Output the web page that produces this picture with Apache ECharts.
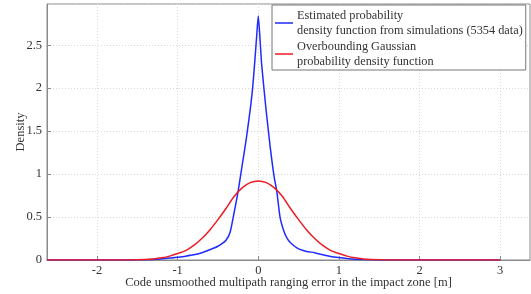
<!DOCTYPE html>
<html>
<head>
<meta charset="utf-8">
<script src="https://cdn.jsdelivr.net/npm/echarts@6/dist/echarts.min.js"></script>
<style>
  html, body { margin: 0; padding: 0; background: #fff; }
  #chart { width: 531px; height: 294px; }
</style>
</head>
<body>
<div id="chart"></div>
<script>
// estimated pdf (blue)
const estX = [-2.62, -2.0, -1.6, -1.4, -1.25, -1.1, -1.0, -0.9, -0.8, -0.7, -0.6, -0.5, -0.45, -0.4, -0.35,
  -0.3, -0.25, -0.2, -0.15, -0.1, -0.07, -0.04, -0.02, 0, 0.02, 0.04, 0.07, 0.1, 0.15, 0.2, 0.23, 0.27,
  0.32, 0.36, 0.4, 0.45, 0.5, 0.6, 0.7, 0.8, 0.9, 1.0, 1.1, 1.2, 1.3, 1.5, 2.0, 3.0]
const estY = [0, 0, 0.001, 0.004, 0.01, 0.022, 0.033, 0.045, 0.06, 0.085, 0.12, 0.16, 0.19, 0.23, 0.32,
  0.55, 0.8, 1.1, 1.4, 1.75, 2.0, 2.35, 2.6, 2.84, 2.6, 2.3, 2.0, 1.72, 1.3, 0.95, 0.8, 0.5,
  0.33, 0.25, 0.2, 0.16, 0.13, 0.1, 0.085, 0.06, 0.04, 0.028, 0.018, 0.01, 0.005, 0.001, 0, 0]

// overbounding gaussian (red)
const gaussX = [-2.62, -2.0, -1.6, -1.4, -1.3, -1.2, -1.1, -1.0, -0.9, -0.8, -0.7, -0.6, -0.5, -0.4, -0.3, -0.2, -0.1,
  0, 0.1, 0.2, 0.3, 0.4, 0.5, 0.6, 0.7, 0.8, 0.9, 1.0, 1.1, 1.2, 1.3, 1.4, 1.6, 2.0, 3.0]
const gaussY = [0, 0, 0.001, 0.006, 0.013, 0.025, 0.045, 0.075, 0.11, 0.17, 0.25, 0.35, 0.47, 0.6, 0.74, 0.84, 0.9,
  0.92, 0.9, 0.84, 0.74, 0.6, 0.47, 0.35, 0.25, 0.17, 0.11, 0.075, 0.045, 0.025, 0.013, 0.006, 0.001, 0, 0]

const xTicks = [-2, -1, 0, 1, 2, 3]
const seriesNames = [
  'Estimated probability\ndensity function from simulations (5354 data)',
  'Overbounding Gaussian\nprobability density function'
]

const font = 'Liberation Serif'
const chart = echarts.init(document.getElementById('chart'))
chart.setOption({
  animation: false,
  grid: {
    left: 47,
    right: 1,
    top: 4,
    bottom: 34,
    outerBoundsMode: 'none',
    show: true,
    borderColor: '#8a8a8a',
    borderWidth: 1
  },
  legend: {
    orient: 'vertical',
    left: 272,
    top: 5,
    padding: [3, 3, 1, 3],
    itemGap: 1,
    icon: 'rect',
    itemWidth: 18,
    itemHeight: 1.5,
    backgroundColor: '#fff',
    borderColor: '#777',
    borderWidth: 1,
    selectedMode: false,
    textStyle: {
      fontFamily: font,
      fontSize: 12.3,
      lineHeight: 15,
      color: '#333',
      padding: [0, 0, 0, -1]
    },
    data: seriesNames
  },
  xAxis: {
    type: 'value',
    min: -2.62,
    max: 3.37,
    name: 'Code unsmoothed multipath ranging error in the impact zone [m]',
    nameLocation: 'middle',
    nameGap: 16,
    nameMoveOverlap: false,
    nameTextStyle: { fontFamily: font, fontSize: 12.5, color: '#333' },
    axisLine: { show: true, lineStyle: { color: '#8a8a8a' } },
    axisTick: { show: true, inside: true, length: 4, customValues: xTicks, lineStyle: { color: '#8a8a8a' } },
    axisLabel: { customValues: xTicks, fontFamily: font, fontSize: 12.5, color: '#333', margin: 4 },
    splitLine: { show: true, lineStyle: { color: '#d8d8d8', type: [1, 2] } }
  },
  yAxis: {
    type: 'value',
    min: 0,
    max: 2.98,
    interval: 0.5,
    name: 'Density',
    nameLocation: 'middle',
    nameGap: 20,
    nameMoveOverlap: false,
    nameTextStyle: { fontFamily: font, fontSize: 12.5, color: '#333' },
    axisLine: { show: true, onZero: false, lineStyle: { color: '#8a8a8a' } },
    axisTick: { show: true, inside: true, length: 4, lineStyle: { color: '#8a8a8a' } },
    axisLabel: { showMaxLabel: false, fontFamily: font, fontSize: 12.5, color: '#333', margin: 5 },
    splitLine: { show: true, lineStyle: { color: '#d8d8d8', type: [1, 2] } }
  },
  series: [
    {
      name: seriesNames[0],
      type: 'line',
      symbol: 'none',
      smooth: 0.2,
      lineStyle: { color: '#1f2bff', width: 1.5 },
      itemStyle: { color: '#1f2bff' },
      data: estX.map((x, i) => [x, estY[i]]),
      z: 3
    },
    {
      name: seriesNames[1],
      type: 'line',
      symbol: 'none',
      smooth: 0.3,
      lineStyle: { color: '#ec1c24', width: 1.5 },
      itemStyle: { color: '#ec1c24' },
      data: gaussX.map((x, i) => [x, gaussY[i]]),
      z: 4
    }
  ]
})
</script>
</body>
</html>
